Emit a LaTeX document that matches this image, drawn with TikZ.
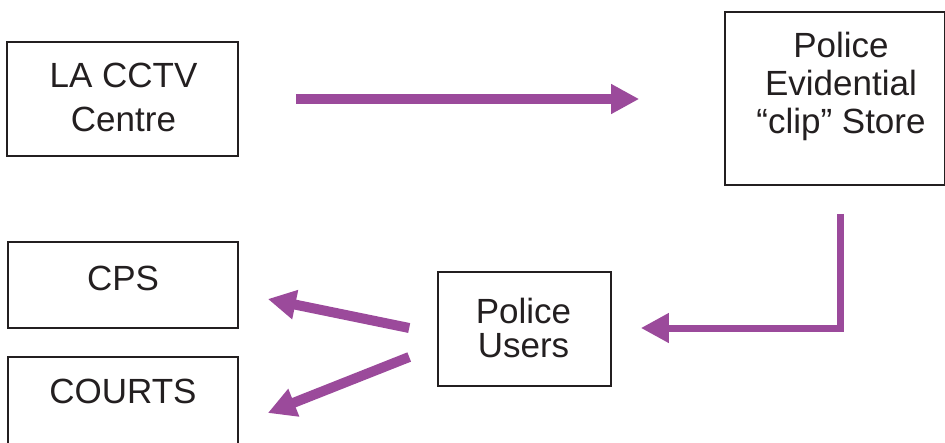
\documentclass[tikz,border=0pt]{standalone}
\usepackage{fontspec}
\setmainfont{Liberation Sans}
\usetikzlibrary{arrows.meta}
\definecolor{arrpurple}{RGB}{155,74,155}
\definecolor{ink}{RGB}{35,31,32}
\begin{document}
\begin{tikzpicture}[x=1pt,y=-1pt,
  box/.style={draw=ink,line width=1.6pt,rectangle,inner sep=0pt},
  txt/.style={font=\fontsize{35}{#1}\selectfont,align=center,text=ink,inner sep=0pt,anchor=base},
  txt/.default=37,
  arr/.style={draw=arrpurple,line width=#1,-{Triangle[length=28pt,width=28pt]}},
  arr/.default=10pt]
\useasboundingbox (0,0) rectangle (945,442);
\node[box,minimum width=231pt,minimum height=114pt] (cctv) at (122.5,99) {};
\node[txt=44] (cctvlabel) at (123.5,131) {LA CCTV\\Centre};
\node[box,minimum width=220pt,minimum height=173pt] (ev) at (835,98.5) {};
\node[txt=38] (evlabel) at (841,133) {Police\\Evidential\\“clip” Store};
\node[box,minimum width=230pt,minimum height=86pt] (cps) at (123,285) {};
\node[txt] (cpslabel) at (123,290) {CPS};
\node[box,minimum width=230pt,minimum height=100pt] (courts) at (123,407) {};
\node[txt] (courtslabel) at (123,403) {COURTS};
\node[box,minimum width=173pt,minimum height=114pt] (users) at (524.5,329) {};
\node[txt=33.5] (userslabel) at (523.5,357) {Police\\Users};
\draw[arr] ([xshift=57pt]cctv.east |- 0,99) -- ([xshift=-85pt]ev.west |- 0,99);
\draw[arr=7pt] ([xshift=5pt,yshift=-28pt]ev.south) |- ([xshift=29pt,yshift=1pt]users.east);
\draw[arr] ([xshift=-28pt,yshift=1pt]users.west) -- ([xshift=29pt,yshift=-14pt]cps.east);
\draw[arr] ([xshift=-28pt,yshift=-28pt]users.west) -- ([xshift=29pt,yshift=-6pt]courts.east);
\end{tikzpicture}
\end{document}
